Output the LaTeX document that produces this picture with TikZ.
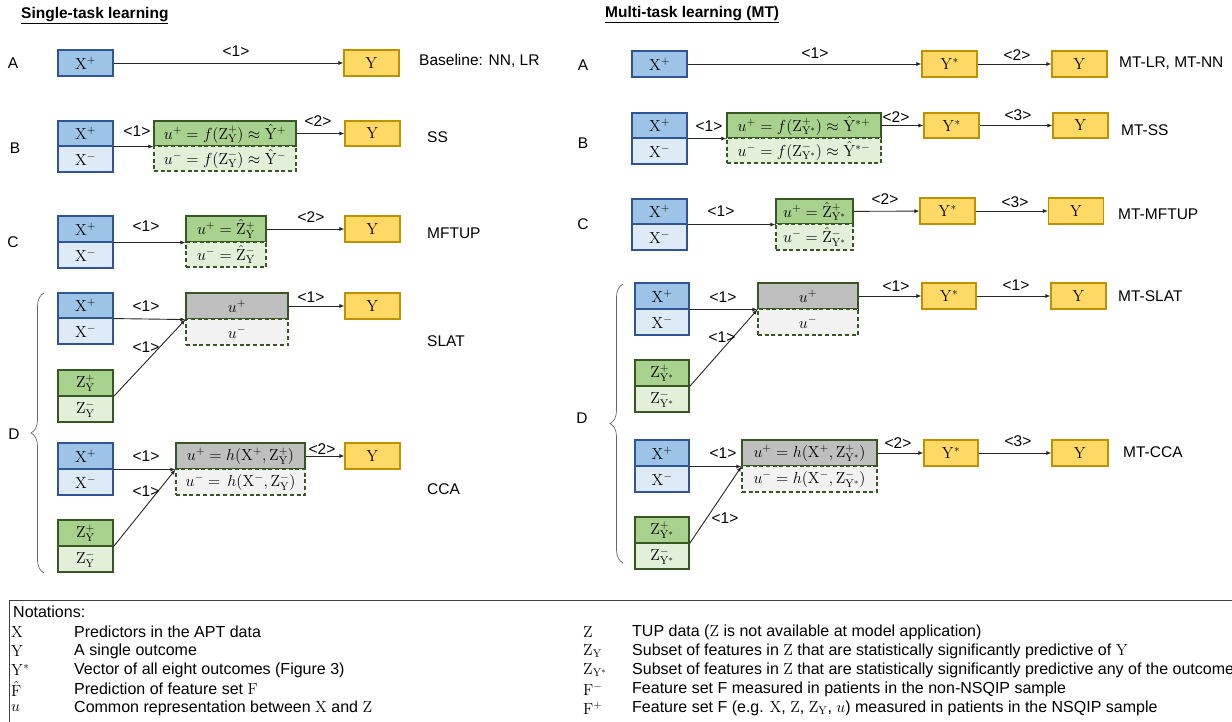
\RequirePackage{fix-cm}
\documentclass[tikz,border=0pt]{standalone}
\usepackage[no-math]{fontspec}
\setmainfont{Liberation Sans}
\usetikzlibrary{arrows.meta,decorations.pathreplacing}

\definecolor{xdark}{RGB}{157,195,230}
\definecolor{xlight}{RGB}{222,235,247}
\definecolor{xedge}{RGB}{47,85,151}
\definecolor{zdark}{RGB}{169,209,142}
\definecolor{zlight}{RGB}{226,240,217}
\definecolor{zedge}{RGB}{56,87,35}
\definecolor{udark}{RGB}{191,191,191}
\definecolor{ulight}{RGB}{242,242,242}
\definecolor{yfill}{RGB}{255,217,102}
\definecolor{yedge}{RGB}{191,144,0}

\newcommand{\rmX}{\mathrm{X}}
\newcommand{\rmY}{\mathrm{Y}}
\newcommand{\rmZ}{\mathrm{Z}}
\newcommand{\rmF}{\mathrm{F}}

\begin{document}
\begin{tikzpicture}[x=1pt,y=-1pt,
    box/.style={rectangle,inner sep=0pt,line width=1.1pt,font=\fontsize{16}{19}\selectfont},
    sz/.style 2 args={minimum width=#1pt,minimum height=#2pt},
    xp/.style={box,fill=xdark,draw=xedge},
    xm/.style={box,fill=xlight,draw=xedge},
    zp/.style={box,fill=zdark,draw=zedge},
    zm/.style={box,fill=zlight,draw=zedge},
    um/.style={box,fill=zlight,draw=zedge,dash pattern=on 4pt off 2.7pt},
    ug/.style={box,fill=udark,draw=zedge},
    ugm/.style={box,fill=ulight,draw=zedge,dash pattern=on 4pt off 2.7pt},
    yb/.style={box,fill=yfill,draw=yedge},
    lab/.style={inner sep=0pt,font=\fontsize{15.5}{18}\selectfont},
    nam/.style={lab,anchor=west},
    note/.style={inner sep=0pt,anchor=west,font=\fontsize{16}{18}\selectfont},
    arr/.style={-{Latex[length=5pt,width=4pt]},line width=0.9pt,black!85},
    brc/.style={decorate,decoration={brace,amplitude=13pt},black!60,line width=0.7pt}]
\clip (0,0) rectangle (1232,721);

% ---------------- single-task learning ----------------
\node[nam,font=\fontsize{15.5}{18}\selectfont\bfseries] (tl) at (21,16) {\underline{Single-task learning}};

% A
\node[lab] (la) at (13,63) {A};
\node[xp,sz={55}{26}] (xa) at (85.5,63) {$\rmX^+$};
\node[yb,sz={55}{26}] (ya) at (371.5,63) {$\rmY$};
\draw[arr] (xa) -- (ya);
\node[lab] (a1) at (236,51) {<1>};
\node[nam] (na) at (419,61) {Baseline: NN, LR};

% B
\node[lab] (lb) at (15,148) {B};
\node[xp,sz={55}{25}] (xpb) at (85.5,133.5) {$\rmX^+$};
\node[xm,sz={55}{26}] (xmb) at (85.5,159) {$\rmX^-$};
\node[zp,sz={142}{25}] (upb) at (225,133.5) {$u^+=f(\rmZ_\rmY^+)\approx\hat{\rmY}^+$};
\node[um,sz={142}{25}] (umb) at (225,158.5) {$u^-=f(\rmZ_\rmY^-)\approx\hat{\rmY}^-$};
\node[yb,sz={55}{25}] (yb) at (372.5,133.5) {$\rmY$};
\draw[arr] (xpb.south east) -- (upb.south west);
\draw[arr] (upb) -- (yb);
\node[lab] (b1) at (137,131) {<1>};
\node[lab] (b2) at (318,121) {<2>};
\node[nam] (nb) at (427,137) {SS};

% C
\node[lab] (lc) at (13,242) {C};
\node[xp,sz={55}{26}] (xpc) at (85.5,229) {$\rmX^+$};
\node[xm,sz={55}{26}] (xmc) at (85.5,255) {$\rmX^-$};
\node[zp,sz={80}{26}] (upc) at (226,229) {$u^+=\hat{\rmZ}_\rmY^+$};
\node[um,sz={80}{25}] (umc) at (226,254.5) {$u^-=\hat{\rmZ}_\rmY^-$};
\node[yb,sz={55}{26}] (yc) at (372.5,229) {$\rmY$};
\draw[arr] (xpc.south east) -- (upc.south west);
\draw[arr] (upc) -- (yc);
\node[lab] (c1) at (146,226) {<1>};
\node[lab] (c2) at (311,217) {<2>};
\node[nam] (nc) at (427,233) {MFTUP};

% D
\node[lab] (ld) at (14,434) {D};
\draw[brc] (44,573) -- (44,293);
% SLAT
\node[xp,sz={55}{25}] (xps) at (85.5,305.5) {$\rmX^+$};
\node[xm,sz={55}{26}] (xms) at (85.5,331) {$\rmX^-$};
\node[zp,sz={55}{26}] (zps) at (85.5,383) {$\rmZ_\rmY^+$};
\node[zm,sz={55}{26}] (zms) at (85.5,409) {$\rmZ_\rmY^-$};
\node[ug,sz={102}{26}] (ugs) at (237,306) {$u^+$};
\node[ugm,sz={102}{26}] (ums) at (237,332) {$u^-$};
\node[yb,sz={55}{26}] (ys) at (372.5,306) {$\rmY$};
\draw[arr] (xps.south east) -- (ugs.south west);
\draw[arr] (zps.south east) -- (ugs.south west);
\draw[arr] (ugs) -- (ys);
\node[lab] (s1) at (146,306) {<1>};
\node[lab] (s2) at (146,347) {<1>};
\node[lab] (s3) at (311,297) {<1>};
\node[nam] (ns) at (427,341) {SLAT};
% CCA
\node[xp,sz={55}{26}] (xpk) at (85.5,456) {$\rmX^+$};
\node[xm,sz={55}{26}] (xmk) at (85.5,482) {$\rmX^-$};
\node[zp,sz={55}{26}] (zpk) at (85.5,533) {$\rmZ_\rmY^+$};
\node[zm,sz={55}{26}] (zmk) at (85.5,559) {$\rmZ_\rmY^-$};
\node[ug,sz={129}{26}] (ugk) at (240.5,456) {$u^+=h(\rmX^+,\rmZ_\rmY^+)$};
\node[ugm,sz={129}{26}] (umk) at (240.5,482) {$u^-=\,h(\rmX^-,\rmZ_\rmY^-)$};
\node[yb,sz={55}{26}] (yk) at (372.5,456) {$\rmY$};
\draw[arr] (xpk.south east) -- (ugk.south west);
\draw[arr] (zpk.south east) -- (ugk.south west);
\draw[arr] (ugk) -- (yk);
\node[lab] (k1) at (146,456) {<1>};
\node[lab] (k2) at (146,491) {<1>};
\node[lab] (k3) at (322,449) {<2>};
\node[nam] (nk) at (427,489) {CCA};

% ---------------- multi-task learning ----------------
\node[nam,font=\fontsize{15.5}{18}\selectfont\bfseries] (tr) at (605,15) {\underline{Multi-task learning (MT)}};

% A
\node[lab] (ra) at (583,65) {A};
\node[xp,sz={55}{26}] (rxa) at (659.5,64) {$\rmX^+$};
\node[yb,sz={55}{26}] (rsa) at (949.5,64) {$\rmY^*$};
\node[yb,sz={55}{26}] (rya) at (1079.5,64) {$\rmY$};
\draw[arr] (rxa) -- (rsa);
\draw[arr] (rsa) -- (rya);
\node[lab] (ra1) at (815,53) {<1>};
\node[lab] (ra2) at (1017,55) {<2>};
\node[nam] (rna) at (1119,63) {MT-LR, MT-NN};

% B
\node[lab] (rb) at (583,143) {B};
\node[xp,sz={55}{25}] (rxpb) at (659.5,125.5) {$\rmX^+$};
\node[xm,sz={55}{26}] (rxmb) at (659.5,151) {$\rmX^-$};
\node[zp,sz={154}{25}] (rupb) at (804,125.5) {$u^+=f(\rmZ_{\rmY^*}^+)\approx\hat{\rmY}^{*+}$};
\node[um,sz={154}{25}] (rumb) at (804,150.5) {$u^-=f(\rmZ_{\rmY^*}^-)\approx\hat{\rmY}^{*-}$};
\node[yb,sz={55}{25}] (rsb) at (951.5,125.5) {$\rmY^*$};
\node[yb,sz={55}{25}] (ryb) at (1080.5,125.5) {$\rmY$};
\draw[arr] (rxpb.south east) -- (rupb.south west);
\draw[arr] (rupb) -- (rsb);
\draw[arr] (rsb) -- (ryb);
\node[lab] (rb1) at (709,126) {<1>};
\node[lab] (rb2) at (896,117) {<2>};
\node[lab] (rb3) at (1018,115) {<3>};
\node[nam] (rnb) at (1121,130) {MT-SS};

% C
\node[lab] (rc) at (583,224) {C};
\node[xp,sz={55}{25}] (rxpc) at (659.5,211.5) {$\rmX^+$};
\node[xm,sz={55}{26}] (rxmc) at (659.5,237) {$\rmX^-$};
\node[zp,sz={77}{25}] (rupc) at (814.5,211.5) {$u^+=\hat{\rmZ}_{\rmY^*}^+$};
\node[um,sz={77}{26}] (rumc) at (814.5,237) {$u^-=\hat{\rmZ}_{\rmY^*}^-$};
\node[yb,sz={55}{26}] (rsc) at (947.5,211) {$\rmY^*$};
\node[yb,sz={55}{26}] (ryc) at (1076,211) {$\rmY$};
\draw[arr] (rxpc.south east) -- (rupc.south west);
\draw[arr] (rupc) -- (rsc);
\draw[arr] (rsc) -- (ryc);
\node[lab] (rc1) at (721,211) {<1>};
\node[lab] (rc2) at (885,199) {<2>};
\node[lab] (rc3) at (1015,202) {<3>};
\node[nam] (rnc) at (1118,214) {MT-MFTUP};

% D
\node[lab] (rd) at (582,418) {D};
\draw[brc] (623,563) -- (623,284);
% MT-SLAT
\node[xp,sz={54}{26}] (rxps) at (662,296) {$\rmX^+$};
\node[xm,sz={54}{26}] (rxms) at (662,322) {$\rmX^-$};
\node[zp,sz={54}{26}] (rzps) at (662,373) {$\rmZ_{\rmY^*}^+$};
\node[zm,sz={54}{26}] (rzms) at (662,399) {$\rmZ_{\rmY^*}^-$};
\node[ug,sz={100}{26}] (rugs) at (808,296) {$u^+$};
\node[ugm,sz={100}{26}] (rums) at (808,322) {$u^-$};
\node[yb,sz={54}{26}] (rss) at (949,296) {$\rmY^*$};
\node[yb,sz={55}{26}] (rys) at (1078.5,296) {$\rmY$};
\draw[arr] (rxps.south east) -- (rugs.south west);
\draw[arr] (rzps.south east) -- (rugs.south west);
\draw[arr] (rugs) -- (rss);
\draw[arr] (rss) -- (rys);
\node[lab] (rs1) at (723,297) {<1>};
\node[lab] (rs2) at (722,337) {<1>};
\node[lab] (rs3) at (896,286) {<1>};
\node[lab] (rs4) at (1016,285) {<1>};
\node[nam] (rns) at (1118,296) {MT-SLAT};
% MT-CCA
\node[xp,sz={54}{26}] (rxpk) at (662,453) {$\rmX^+$};
\node[xm,sz={54}{26}] (rxmk) at (662,479) {$\rmX^-$};
\node[zp,sz={54}{26}] (rzpk) at (662,530) {$\rmZ_{\rmY^*}^+$};
\node[zm,sz={54}{26}] (rzmk) at (662,556) {$\rmZ_{\rmY^*}^-$};
\node[ug,sz={135}{26}] (rugk) at (809.5,453) {$u^+=h(\rmX^+,\rmZ_{\rmY^*}^+)$};
\node[ugm,sz={135}{26}] (rumk) at (809.5,479) {$u^-=h(\rmX^-,\rmZ_{\rmY^*}^-)$};
\node[yb,sz={54}{26}] (rsk) at (951,453) {$\rmY^*$};
\node[yb,sz={56}{26}] (ryk) at (1080,453) {$\rmY$};
\draw[arr] (rxpk.south east) -- (rugk.south west);
\draw[arr] (rzpk.south east) -- (rugk.south west);
\draw[arr] (rugk) -- (rsk);
\draw[arr] (rsk) -- (ryk);
\node[lab] (rk1) at (723,453) {<1>};
\node[lab] (rk2) at (725,518) {<1>};
\node[lab] (rk3) at (898,443) {<2>};
\node[lab] (rk4) at (1018,441) {<3>};
\node[nam] (rnk) at (1123,452) {MT-CCA};

% ---------------- notations ----------------
\draw[line width=0.8pt,black!75] (9,600) rectangle (1260,740);
\node[note] (nh) at (13,612) {Notations:};
\node[note] (n1s) at (11,632) {$\rmX$};
\node[note] (n1t) at (74,632) {Predictors in the APT data};
\node[note] (n2s) at (11,651) {$\rmY$};
\node[note] (n2t) at (74,651) {A single outcome};
\node[note] (n3s) at (11,670) {$\rmY^*$};
\node[note] (n3t) at (74,670) {Vector of all eight outcomes (Figure 3)};
\node[note] (n4s) at (11,689) {$\hat{\rmF}$};
\node[note] (n4t) at (74,689) {Prediction of feature set $\rmF$};
\node[note] (n5s) at (11,708) {$u$};
\node[note] (n5t) at (74,708) {Common representation between $\rmX$ and $\rmZ$};
\node[note] (m1s) at (583,632) {$\rmZ$};
\node[note] (m1t) at (632,632) {TUP data ($\rmZ$ is not available at model application)};
\node[note] (m2s) at (583,651) {$\rmZ_\rmY$};
\node[note] (m2t) at (632,651) {Subset of features in $\rmZ$ that are statistically significantly predictive of $\rmY$};
\node[note] (m3s) at (583,670) {$\rmZ_{\rmY^*}$};
\node[note] (m3t) at (632,670) {Subset of features in $\rmZ$ that are statistically significantly predictive any of the outcomes};
\node[note] (m4s) at (583,689) {$\rmF^-$};
\node[note] (m4t) at (632,689) {Feature set F measured in patients in the non-NSQIP sample};
\node[note] (m5s) at (583,708) {$\rmF^+$};
\node[note] (m5t) at (632,708) {Feature set F (e.g. $\rmX$, $\rmZ$, $\rmZ_\rmY$, $u$) measured in patients in the NSQIP sample};
\end{tikzpicture}
\end{document}
